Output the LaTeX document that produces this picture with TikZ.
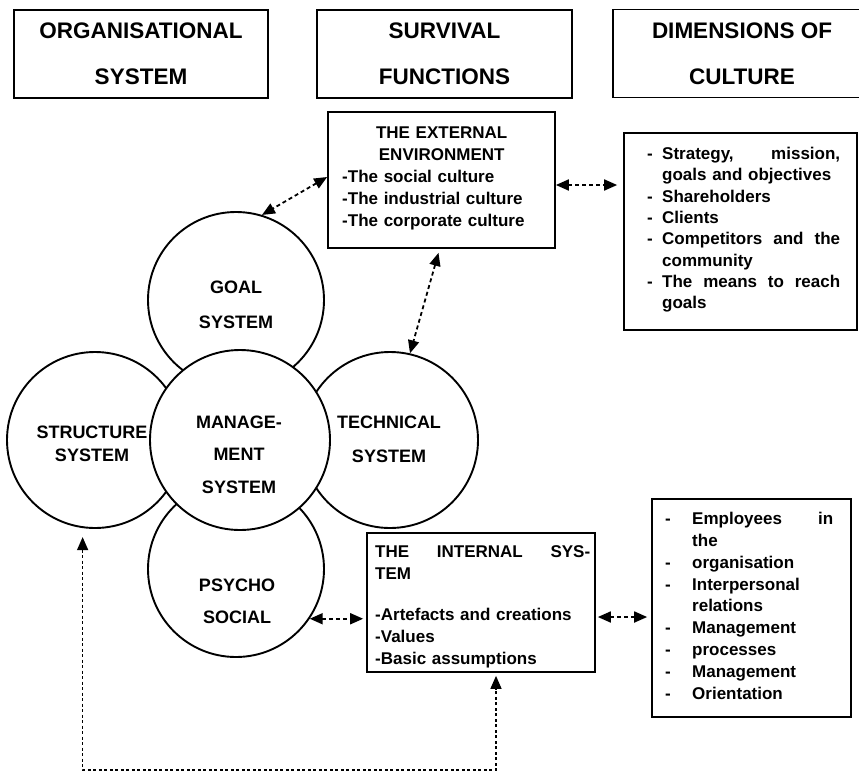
\documentclass[tikz,border=0pt]{standalone}
\usepackage{fontspec}
\setmainfont{Liberation Sans}
\usetikzlibrary{arrows.meta,calc}
\setlength{\parindent}{0pt}
\newcommand\myjline[1]{\leavevmode\hbox to\hsize{#1}}
\begin{document}
\begin{tikzpicture}[x=1pt,y=-1pt,
  hdr/.style={draw,line width=1.6pt,minimum height=88pt,align=center,
    font=\fontsize{22.5}{46}\selectfont\bfseries,inner sep=0pt},
  circ/.style={draw,circle,line width=1.9pt,fill=white,minimum size=176pt,inner sep=0pt},
  ctext/.style={font=\fontsize{18}{#1}\selectfont\bfseries,align=center,inner sep=0pt},
  boxs/.style={draw,line width=1.7pt,inner sep=0pt},
  btext/.style={anchor=north west,inner sep=0pt,align=left,
    font=\fontsize{17}{#1}\selectfont\bfseries},
  arr/.style={line width=1.8pt,dash pattern=on 4pt off 3pt,{Triangle[length=13pt,width=11pt]}-{Triangle[length=13pt,width=11pt]}},
  arrfine/.style={line width=1.4pt,dash pattern=on 3pt off 2.5pt,{Triangle[length=13pt,width=11pt]}-{Triangle[length=13pt,width=11pt]}},
]
\useasboundingbox[fill=white] (0,0) rectangle (859,774);

% header boxes
\node[hdr,minimum width=254pt] (org) at (141,54) {ORGANISATIONAL\\SYSTEM};
\node[hdr,minimum width=255pt] (surv) at (444.5,54) {SURVIVAL\\FUNCTIONS};
\node[hdr,minimum width=258pt] (dim) at (742,53.5) {DIMENSIONS OF\\CULTURE};

% circles
\node[circ] (goal) at (236,300) {};
\node[circ] (struct) at (95,440) {};
\node[circ] (tech) at (390,440) {};
\node[circ] (psy) at (236,569) {};
\node[circ,minimum size=180pt] (mgmt) at (240,440) {};

\node[ctext=35] (goalt) at (236,304.5) {GOAL\\SYSTEM};
\node[ctext=32.5] (mgmtt) at (239,454.5) {MANAGE-\\MENT\\SYSTEM};
\node[ctext=23] (structt) at (92,443.5) {STRUCTURE\\SYSTEM};
\node[ctext=34] (techt) at (389,439) {TECHNICAL\\SYSTEM};
\node[ctext=32] (psyt) at (237,601) {PSYCHO\\SOCIAL};

% external environment
\node[boxs,minimum width=227pt,minimum height=136pt] (ext) at (441.5,180) {};
\node[btext=22,text width=199pt] (extt) at (342,126.8)
 {\myjline{\hfil THE EXTERNAL\hfil}\\
  \myjline{\hfil ENVIRONMENT\hfil}\\
  -The social culture\\
  -The industrial culture\\
  -The corporate culture};

% dimensions of external culture
\node[boxs,minimum width=233pt,minimum height=197pt] (strat) at (740.5,231.5) {};
\node[btext=21.3,text width=193pt] (stratt) at (647,147)
 {\myjline{\makebox[15pt][l]{-}Strategy,\hfill mission,}\\
  \hspace*{15pt}goals and objectives\\
  \makebox[15pt][l]{-}Shareholders\\
  \makebox[15pt][l]{-}Clients\\
  \myjline{\makebox[15pt][l]{-}Competitors\hfill and\hfill the}\\
  \hspace*{15pt}community\\
  \myjline{\makebox[15pt][l]{-}The\hfill means\hfill to\hfill reach}\\
  \hspace*{15pt}goals};

% internal system
\node[boxs,minimum width=228pt,minimum height=139pt] (int) at (481,602.5) {};
\node[btext=22,text width=215pt] (intt) at (375,545.8)
 {\myjline{THE\hfill INTERNAL\hfill SYS-}\\
  TEM\\[19pt]
  -Artefacts and creations\\
  -Values\\
  -Basic assumptions};

% dimensions of internal culture
\node[boxs,minimum width=199pt,minimum height=218pt] (emp) at (751.5,608) {};
\node[btext=21.9,text width=168pt] (empt) at (665,511.8)
 {\myjline{\makebox[27pt][l]{-}Employees\hfill in}\\
  \hspace*{27pt}the\\
  \makebox[27pt][l]{-}organisation\\
  \makebox[27pt][l]{-}Interpersonal\\
  \hspace*{27pt}relations\\
  \makebox[27pt][l]{-}Management\\
  \makebox[27pt][l]{-}processes\\
  \makebox[27pt][l]{-}Management\\
  \makebox[27pt][l]{-}Orientation};

% connectors
\draw[arr] ([yshift=3pt]ext.west) -- (goal.73);
\draw[arr,shorten >=6pt] ([yshift=-5pt]ext.east) -- ([yshift=-5pt]ext.east -| strat.west);
\draw[arr] ([xshift=-3pt,yshift=-4pt]ext.south) -- (tech.77);
\draw[arr,shorten >=3pt] (psy.-34) -- (psy.-34 -| int.west);
\draw[arr,shorten <=2pt,shorten >=4pt] ([yshift=-14.5pt]int.east) -- ([yshift=-14.5pt]int.east -| emp.west);
\coordinate (lbase) at (0,770);
\draw[arrfine,shorten >=3pt] ([yshift=-9pt]struct.-98) -- (struct.-98 |- lbase) -| ([xshift=15pt]int.south);
\end{tikzpicture}
\end{document}
